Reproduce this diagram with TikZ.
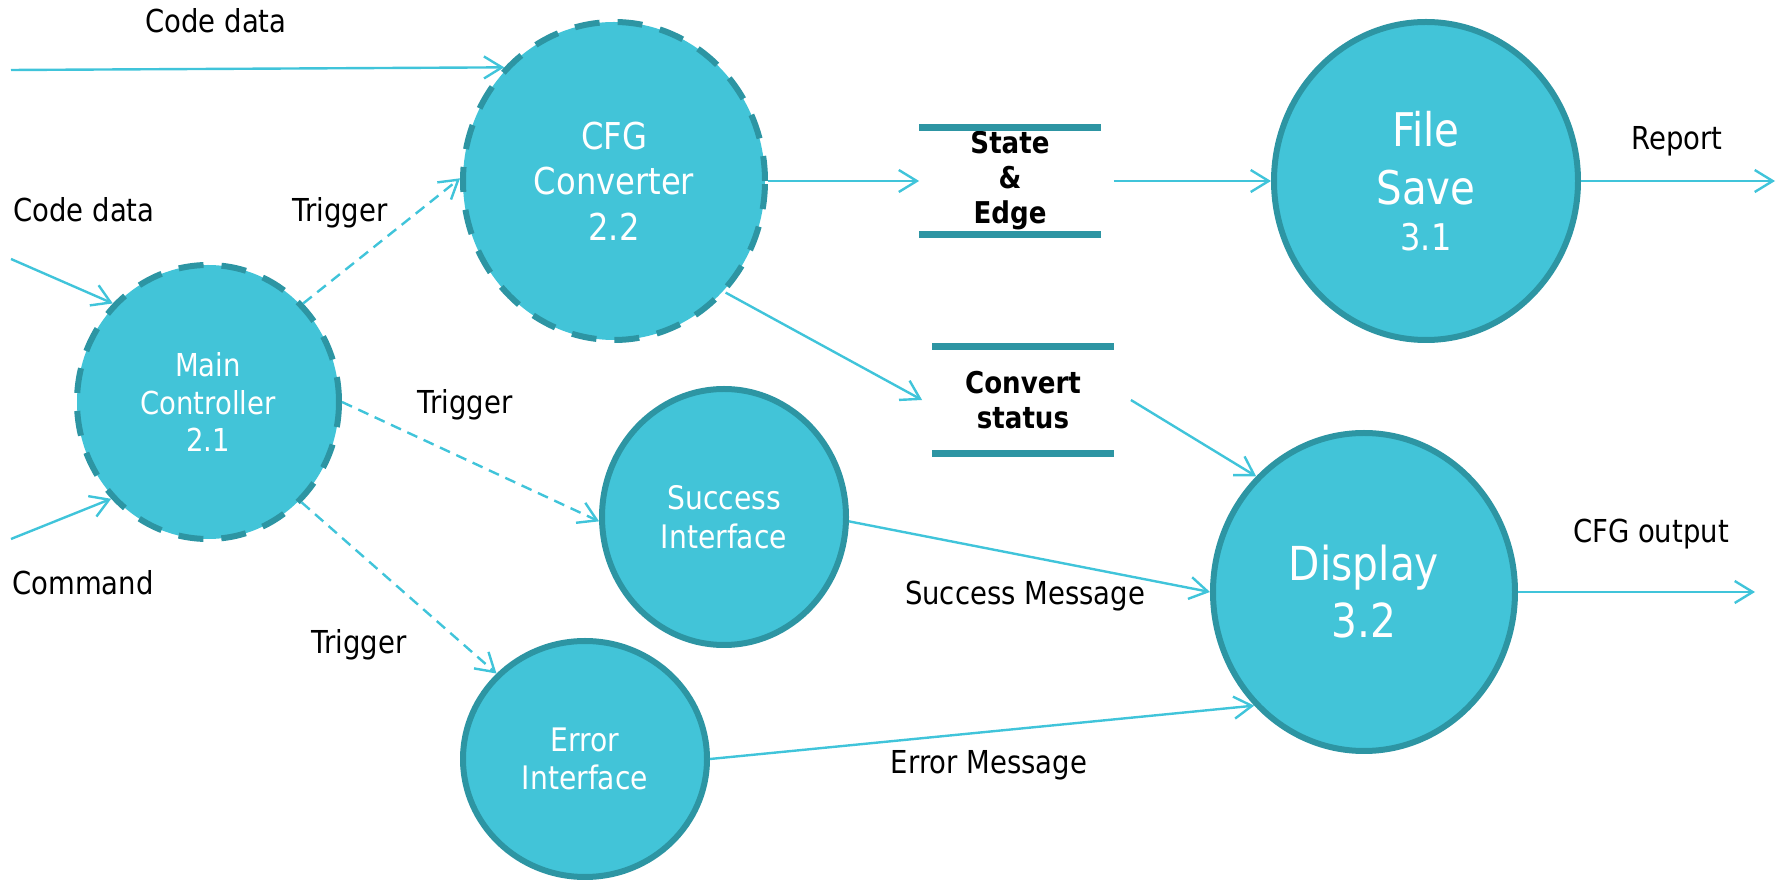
\documentclass[tikz,border=0pt]{standalone}
\usepackage{fontspec}
\setmainfont{DejaVu Sans}[FakeStretch=0.87]
\usetikzlibrary{shapes.geometric,arrows.meta}

\definecolor{procfill}{RGB}{66,196,216}
\definecolor{procedge}{RGB}{45,149,163}
\definecolor{flowline}{RGB}{64,196,218}

\tikzset{
  proc/.style={ellipse, fill=procfill, draw=procedge, line width=3pt,
    inner sep=0pt, text=white, align=center},
  procdash/.style={proc, dash pattern=on 12.5pt off 9pt},
  flow/.style={draw=flowline, line width=1.2pt,
    -{Straight Barb[length=9pt,width=11pt]}},
  trig/.style={flow, dash pattern=on 5.5pt off 3.5pt},
  lbl/.style={anchor=base, text=black, font=\fontsize{15.8}{19}\selectfont},
  store/.style={rectangle, inner sep=0pt, minimum width=90.5pt,
    minimum height=53pt, align=center, text=black,
    font=\bfseries\fontsize{15}{17.5}\selectfont},
  storebar/.style={draw=procedge, line width=3.5pt},
}

\begin{document}
\begin{tikzpicture}[x=0.5pt,y=-0.5pt]
\useasboundingbox (0,0) rectangle (1785,881);

% processes
\node[procdash, minimum width=131pt, minimum height=137pt,
  font=\fontsize{15.8}{18.75}\selectfont] (mc) at (208,402)
  {Main\\Controller\\2.1};
\node[procdash, minimum width=151pt, minimum height=159pt,
  font=\fontsize{18.5}{22.75}\selectfont] (cfg) at (614,181)
  {CFG\\Converter\\2.2};
\node[proc, minimum width=122pt, minimum height=128pt,
  font=\fontsize{16.2}{19.3}\selectfont] (succ) at (724,517)
  {Success\\Interface};
\node[proc, minimum width=122pt, minimum height=118pt,
  font=\fontsize{16.2}{19.3}\selectfont] (err) at (585,759)
  {Error\\Interface};
\node[proc, minimum width=152pt, minimum height=159pt,
  font=\fontsize{23.2}{29}\selectfont] (fs) at (1426,181)
  {File\\Save\\[-5.7pt]{\fontsize{18.4}{22}\selectfont 3.1}};
\node[proc, minimum width=151pt, minimum height=159pt,
  font=\fontsize{23.4}{28.5}\selectfont] (disp) at (1364,592)
  {Display\\3.2};

% data stores
\node[store] (se) at (1010,181) {State\\\&\\Edge};
\node[store] (cs) at (1023,400) {Convert\\status};
\draw[storebar] (se.north west) -- (se.north east);
\draw[storebar] (se.south west) -- (se.south east);
\draw[storebar] (cs.north west) -- (cs.north east);
\draw[storebar] (cs.south west) -- (cs.south east);

% free ends of external flows
\coordinate (codein1) at (11,70);
\coordinate (codein2) at (11,259);
\coordinate (cmdin) at (11,539);
\coordinate (reportout) at (1775,181);
\coordinate (cfgout) at (1755,592);

% flows
\draw[flow] (codein1) -- (cfg.134);
\draw[flow] (codein2) -- (mc.134);
\draw[flow] (cmdin) -- (mc.225);
\draw[trig] (mc.46) -- (cfg.179);
\draw[trig] (mc.0) -- (succ.182);
\draw[trig] (mc.313) -- (err.136);
\draw[flow] (cfg.0) -- (se.west);
\draw[flow] ([xshift=6.5pt]se.east) -- (fs.180);
\draw[flow] (cfg.315) -- ([xshift=-5pt]cs.west);
\draw[flow] ([xshift=8.5pt]cs.east) -- (disp.133);
\draw[flow] (succ.-2) -- (disp.180);
\draw[flow] (err.0) -- (disp.226);
\draw[flow] (fs.0) -- (reportout);
\draw[flow] (disp.0) -- (cfgout);

% flow labels
\node[lbl] (lcode1) at (216,33) {Code data};
\node[lbl] (lcode2) at (84,222) {Code data};
\node[lbl] (ltrig1) at (340,222) {Trigger};
\node[lbl] (lcmd) at (83,595) {Command};
\node[lbl] (ltrig2) at (465,414) {Trigger};
\node[lbl] (ltrig3) at (359,654) {Trigger};
\node[lbl] (lsucc) at (1025,605) {Success Message};
\node[lbl] (lerr) at (989,774) {Error Message};
\node[lbl] (lrep) at (1677,150) {Report};
\node[lbl] (lout) at (1651,543) {CFG output};
\end{tikzpicture}
\end{document}
